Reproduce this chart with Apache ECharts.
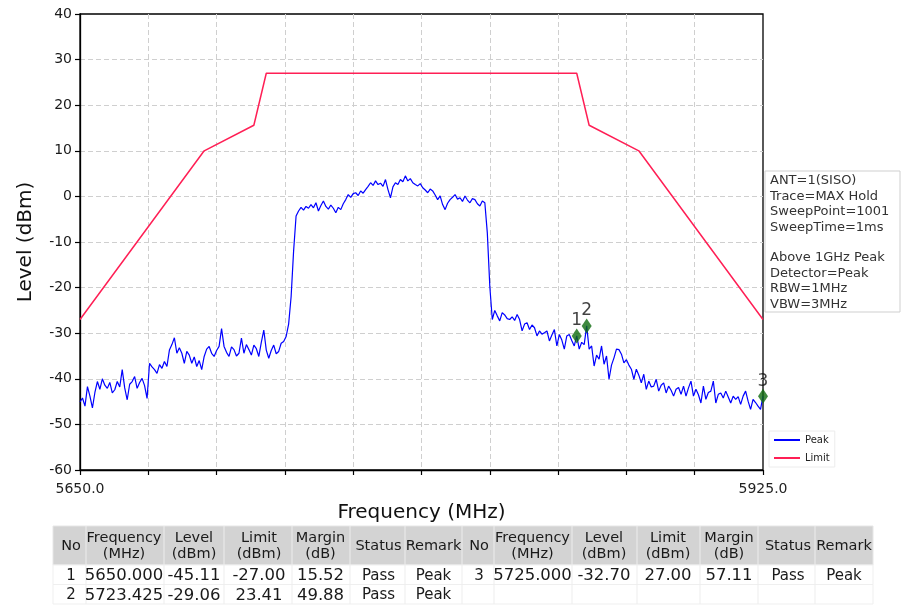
<!DOCTYPE html>
<html>
<head>
<meta charset="utf-8">
<script src="https://cdn.jsdelivr.net/npm/echarts@6/dist/echarts.min.js"></script>
<style>
html,body{margin:0;padding:0;background:#fff;}
#chart{width:903px;height:606px;}
</style>
</head>
<body>
<div id="chart"></div>
<script>
// ---------- data ----------
var peakStartMHz = 5650;
var peakStepMHz = 1;
var peakLevel = [
-45.1,-44.2,-46.0,-41.7,-43.8,-46.4,-43.0,-40.6,-42.3,-40.0,
-41.4,-42.1,-40.8,-43.1,-42.4,-40.6,-41.8,-38.0,-42.0,-44.6,
-41.2,-40.6,-39.5,-42.1,-40.8,-39.9,-41.5,-44.3,-36.6,-37.4,
-38.0,-38.8,-36.9,-37.7,-36.2,-37.3,-33.7,-32.5,-31.0,-34.4,
-33.2,-34.4,-36.6,-34.0,-34.8,-36.6,-35.2,-37.3,-36.0,-38.0,
-35.1,-33.5,-32.9,-34.4,-35.1,-33.8,-32.9,-29.0,-32.9,-34.2,
-35.1,-33.0,-33.6,-35.0,-34.4,-31.1,-34.4,-32.5,-33.6,-34.8,
-32.6,-33.4,-35.1,-32.0,-29.3,-33.7,-35.5,-33.8,-32.6,-34.5,
-34.0,-32.2,-31.8,-30.7,-28.0,-22.0,-12.0,-4.3,-3.2,-2.4,
-3.0,-2.2,-2.6,-1.8,-2.5,-1.4,-3.2,-2.0,-1.0,-2.2,
-2.8,-1.9,-2.6,-3.6,-2.4,-2.9,-1.6,-0.7,0.4,-0.2,
0.6,0.8,0.2,1.2,0.7,1.5,2.2,3.0,2.4,3.4,
2.6,2.9,2.2,3.7,1.5,-0.3,2.1,3.0,2.6,3.7,
3.2,4.5,3.4,3.9,3.0,2.6,2.3,2.8,1.9,1.4,
0.8,1.6,1.2,0.3,-0.7,0.1,-1.8,-2.9,-1.5,-0.7,
-0.2,0.4,-0.6,-0.3,-1.1,0.1,-0.8,-1.4,-0.5,-0.7,
-1.6,-2.1,-1.0,-1.4,-8.0,-19.7,-27.0,-25.0,-26.2,-27.3,
-25.5,-26.0,-26.8,-27.0,-26.4,-27.2,-25.9,-27.0,-29.5,-28.0,
-27.7,-29.2,-28.2,-28.8,-30.6,-29.5,-30.2,-29.9,-29.5,-31.7,
-30.4,-29.2,-32.8,-30.3,-31.5,-33.5,-30.6,-30.3,-31.6,-32.8,
-30.6,-33.5,-32.0,-32.5,-28.4,-33.5,-32.8,-37.2,-34.8,-35.7,
-32.8,-36.8,-35.0,-40.1,-37.0,-35.4,-33.5,-33.6,-34.6,-36.5,
-35.8,-37.0,-37.9,-40.1,-37.9,-39.2,-40.9,-39.0,-42.3,-40.5,
-41.8,-41.6,-40.1,-42.7,-41.4,-40.9,-43.1,-41.6,-42.5,-43.8,
-42.3,-41.9,-43.4,-41.6,-43.8,-42.0,-40.5,-43.8,-42.3,-43.5,
-45.3,-41.6,-44.5,-43.0,-42.7,-40.5,-45.3,-43.4,-43.1,-44.2,
-42.7,-44.0,-45.3,-43.8,-44.5,-43.9,-45.6,-43.8,-42.7,-44.9,
-46.7,-44.5,-45.2,-46.0,-46.7,-43.8
];

var limitFreq  = [5650, 5700, 5720, 5725, 5850, 5855, 5875, 5925];
var limitLevel = [-27, 10, 15.6, 27, 27, 15.6, 10, -27];

var markerNo    = ['1', '2', '3'];
var markerFreq  = [5850.0, 5854.0, 5925.0];
var markerLevel = [-30.6, -28.4, -43.8];

var xTickLabels = ['5650.0', '5925.0'];
var infoLines = ['ANT=1(SISO)', 'Trace=MAX Hold', 'SweepPoint=1001', 'SweepTime=1ms', '',
                 'Above 1GHz Peak', 'Detector=Peak', 'RBW=1MHz', 'VBW=3MHz'];

var tableHeader = ['No', 'Frequency\n(MHz)', 'Level\n(dBm)', 'Limit\n(dBm)', 'Margin\n(dB)', 'Status', 'Remark'];
var tableNo     = ['1', '2', '3'];
var tableFreq   = ['5650.000', '5723.425', '5725.000'];
var tableLevel  = ['-45.11', '-29.06', '-32.70'];
var tableLimit  = ['-27.00', '23.41', '27.00'];
var tableMargin = ['15.52', '49.88', '57.11'];
var tableStatus = ['Pass', 'Pass', 'Pass'];
var tableRemark = ['Peak', 'Peak', 'Peak'];

// ---------- build ----------
var peakData = peakLevel.map(function (v, i) { return [peakStartMHz + i * peakStepMHz, v]; });
var limitData = limitFreq.map(function (f, i) { return [f, limitLevel[i]]; });
var markerData = markerFreq.map(function (f, i) { return { value: [f, markerLevel[i]], name: markerNo[i] }; });

var FONT = 'DejaVu Sans';
var graphics = [];

// info box
graphics.push({ type: 'rect', shape: { x: 765, y: 171, width: 135, height: 141 },
  style: { fill: '#fff', stroke: '#cfcfcf', lineWidth: 1 }, z: 10 });
infoLines.forEach(function (t, i) {
  if (!t) return;
  graphics.push({ type: 'text', x: 770, y: 181 + i * 15.4, z: 11,
    style: { text: t, fill: '#333', font: '13px "' + FONT + '"', textAlign: 'left', textVerticalAlign: 'middle', align: 'left', verticalAlign: 'middle' } });
});

// table
var colEdges = [53, 86, 164, 224, 292, 350, 405, 462, 494, 572, 637, 700, 758, 815, 873];
var colCenters = [71, 124, 194, 259, 320.5, 378.5, 433.5, 479, 532.5, 604, 668, 729, 788, 844];
var headTop = 526, headBot = 565, rowH = 19.5;
graphics.push({ type: 'rect', shape: { x: colEdges[0], y: headTop, width: colEdges[14] - colEdges[0], height: headBot - headTop },
  style: { fill: '#d3d3d3', stroke: '#e6e6e6', lineWidth: 1 }, z: 5 });
for (var r = 0; r < 2; r++) {
  graphics.push({ type: 'rect', shape: { x: colEdges[0], y: headBot + r * rowH, width: colEdges[14] - colEdges[0], height: rowH },
    style: { fill: '#fff', stroke: '#efefef', lineWidth: 1 }, z: 5 });
}
for (var c = 1; c < colEdges.length - 1; c++) {
  graphics.push({ type: 'line', shape: { x1: colEdges[c], y1: headTop, x2: colEdges[c], y2: headBot + 2 * rowH },
    style: { stroke: '#ededed', lineWidth: 1 }, z: 6 });
}
function cellText(t, x, y, size) {
  graphics.push({ type: 'text', x: x, y: y, z: 7,
    style: { text: t, fill: '#1a1a1a', font: size + 'px "' + FONT + '"', textAlign: 'center', textVerticalAlign: 'middle', align: 'center', verticalAlign: 'middle', lineHeight: 16 } });
}
for (var h = 0; h < 14; h++) {
  cellText(tableHeader[h % 7], colCenters[h], (headTop + headBot) / 2 + 0.5, 14.5);
}
var rowPlace = [[0, 0], [0, 1], [1, 0]]; // [side, row] for each record
tableNo.forEach(function (no, i) {
  var side = rowPlace[i][0], row = rowPlace[i][1];
  var y = headBot + row * rowH + rowH / 2 + 1;
  var vals = [no, tableFreq[i], tableLevel[i], tableLimit[i], tableMargin[i], tableStatus[i], tableRemark[i]];
  vals.forEach(function (v, k) { cellText(v, colCenters[side * 7 + k], y, (k >= 1 && k <= 4) ? 16.5 : 15); });
});

var chart = echarts.init(document.getElementById('chart'), null, { renderer: 'canvas' });
var gridStyle = { show: true, showMinLine: false, showMaxLine: false, lineStyle: { color: '#cfcfcf', type: [5, 3], width: 1 } };
chart.setOption({
  animation: false,
  backgroundColor: '#fff',
  textStyle: { fontFamily: FONT },
  grid: { left: 80, top: 14, right: 140, bottom: 136, show: true, borderColor: '#000', borderWidth: 1.3, backgroundColor: 'transparent' },
  legend: {
    data: [{ name: 'Peak', icon: 'rect' }, { name: 'Limit', icon: 'rect' }],
    orient: 'vertical', left: 769, top: 431, itemWidth: 26, itemHeight: 2, itemGap: 8,
    textStyle: { fontSize: 10, color: '#222', fontFamily: FONT },
    borderColor: '#ececec', borderWidth: 1, padding: [4, 5, 4, 5], backgroundColor: '#fff'
  },
  xAxis: [
    {
      type: 'value', min: 5650, max: 5925, interval: 275,
      name: 'Frequency (MHz)', nameLocation: 'middle', nameGap: 33,
      nameTextStyle: { fontSize: 20, color: '#111', fontFamily: FONT },
      axisLine: { show: false }, axisTick: { show: false }, splitLine: { show: false },
      axisLabel: { show: true, margin: 12, fontSize: 14, color: '#222', fontFamily: FONT, showMinLabel: true, showMaxLabel: true,
        formatter: function (v) {
          if (Math.abs(v - 5650) < 1e-6) return xTickLabels[0];
          if (Math.abs(v - 5925) < 1e-6) return xTickLabels[1];
          return '';
        } }
    },
    {
      type: 'value', min: 0, max: 10, interval: 1, position: 'bottom',
      axisLine: { show: true, lineStyle: { color: '#000', width: 1.3 } },
      axisTick: { show: true, length: 5, lineStyle: { color: '#000', width: 1.2 } },
      axisLabel: { show: false },
      splitLine: gridStyle
    }
  ],
  yAxis: {
    type: 'value', min: -60, max: 40, interval: 10,
    name: 'Level (dBm)', nameLocation: 'middle', nameGap: 44,
    nameTextStyle: { fontSize: 20, color: '#111', fontFamily: FONT },
    axisLine: { show: true, lineStyle: { color: '#000', width: 1.3 } },
    axisTick: { show: true, length: 5, lineStyle: { color: '#000', width: 1.2 } },
    axisLabel: { fontSize: 14, color: '#1a1a1a', margin: 8, fontFamily: FONT },
    splitLine: gridStyle
  },
  series: [
    { name: 'Peak', type: 'line', xAxisIndex: 0, data: peakData, showSymbol: false, symbol: 'none',
      lineStyle: { color: '#0000ff', width: 1.2 }, itemStyle: { color: '#0000ff' }, z: 3 },
    { name: 'Limit', type: 'line', xAxisIndex: 0, data: limitData, showSymbol: false, symbol: 'none',
      lineStyle: { color: '#ff1f55', width: 1.5 }, itemStyle: { color: '#ff1f55' }, z: 4 },
    { name: 'Markers', type: 'scatter', xAxisIndex: 0, data: markerData, symbol: 'diamond', symbolSize: [10, 15],
      itemStyle: { color: '#0f6b0f' }, z: 5,
      label: { show: true, position: 'top', distance: -1, formatter: function (p) { return p.name; }, fontSize: 17, color: '#111', fontFamily: FONT } }
  ],
  graphic: graphics
});
</script>
</body>
</html>
